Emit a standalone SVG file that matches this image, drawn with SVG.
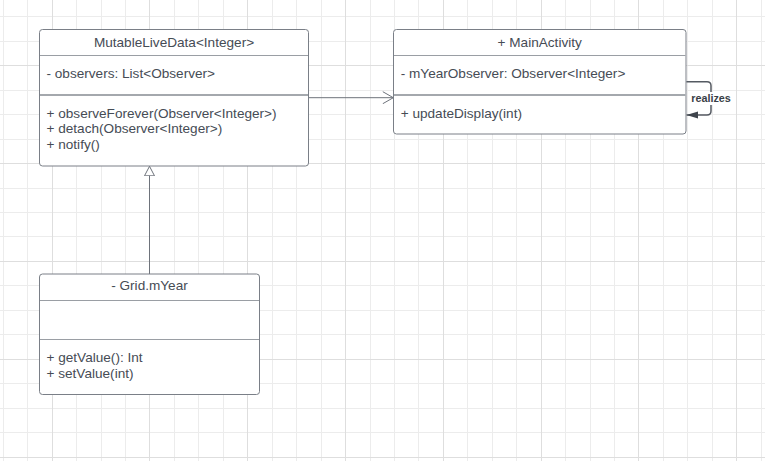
<svg xmlns="http://www.w3.org/2000/svg" width="765" height="461" viewBox="0 0 765 461">
<style>
.gmin{stroke:#ececec;stroke-width:1;fill:none}
.gmaj{stroke:#dedede;stroke-width:1;fill:none}
.box{fill:#ffffff;stroke:#7a7f87;stroke-width:1}
.dv1{stroke:#9a9ea4;stroke-width:1}
.dv2{stroke:#a4a8ad;stroke-width:2}
.t{font-family:"Liberation Sans",Arial,sans-serif;font-size:13.6px;fill:#464c55}
.c{text-anchor:middle}
.conn{fill:none;stroke:#6e737b;stroke-width:1}
.loop{fill:none;stroke:#555a62;stroke-width:1.5}
.lbl{font-family:"Liberation Sans",Arial,sans-serif;font-size:10.8px;font-weight:bold;fill:#3a3f47;text-anchor:middle}
</style>
<defs>
<marker id="open" markerUnits="userSpaceOnUse" viewBox="0 0 12 13" markerWidth="12" markerHeight="13" refX="11" refY="6.5" orient="auto">
<path d="M0.5,0.5 L11,6.5 L0.5,12.5" fill="none" stroke="#6e737b" stroke-width="1"/>
</marker>
<marker id="hollow" markerUnits="userSpaceOnUse" viewBox="0 0 11 12" markerWidth="11" markerHeight="12" refX="10" refY="6" orient="auto">
<path d="M0.5,1 L10,6 L0.5,11 Z" fill="#ffffff" stroke="#6e737b" stroke-width="1"/>
</marker>
<marker id="filled" markerUnits="userSpaceOnUse" viewBox="0 0 12 8" markerWidth="12" markerHeight="8" refX="11.5" refY="4" orient="auto">
<path d="M0,0.5 L11.5,4 L0,7.5 Z" fill="#3f444c"/>
</marker>
</defs>
<rect x="0" y="0" width="765" height="461" fill="#ffffff"/>
<g id="grid">
<path class="gmin" d="M3.5,0V461M27.5,0V461M76.5,0V461M101.5,0V461M125.5,0V461M174.5,0V461M198.5,0V461M223.5,0V461M272.5,0V461M296.5,0V461M321.5,0V461M370.5,0V461M394.5,0V461M418.5,0V461M467.5,0V461M492.5,0V461M516.5,0V461M565.5,0V461M590.5,0V461M614.5,0V461M663.5,0V461M687.5,0V461M712.5,0V461M761.5,0V461"/>
<path class="gmin" d="M0,16.5H765M0,41.5H765M0,90.5H765M0,114.5H765M0,139.5H765M0,188.5H765M0,212.5H765M0,236.5H765M0,285.5H765M0,310.5H765M0,334.5H765M0,383.5H765M0,408.5H765M0,432.5H765"/>
<path class="gmaj" d="M52.5,0V461M149.5,0V461M247.5,0V461M345.5,0V461M443.5,0V461M541.5,0V461M638.5,0V461M736.5,0V461M0,65.5H765M0,163.5H765M0,261.5H765M0,359.5H765M0,457.5H765"/>
</g>
<g id="connectors">
<path class="conn" d="M308.5,97.7 H393.3" marker-end="url(#open)"/>
<path class="conn" d="M149.5,274 V166.3" marker-end="url(#hollow)"/>
<path class="loop" d="M686.3,81.7 H707 Q711,81.7 711,85.7 V111 Q711,115 707,115 H686.5" marker-end="url(#filled)"/>
<rect x="691" y="92" width="41" height="13" fill="#ffffff"/>
<text class="lbl" x="711" y="101.5">realizes</text>
</g>
<g id="node-mutablelivedata">
<rect class="box" x="39.5" y="29.5" width="269" height="136.5" rx="3"/>
<line class="dv1" x1="40" y1="55.5" x2="308" y2="55.5"/>
<line class="dv2" x1="40" y1="95" x2="308" y2="95"/>
<text class="t c" x="174" y="46.5">MutableLiveData&lt;Integer&gt;</text>
<text class="t" x="46.5" y="78.3">- observers: List&lt;Observer&gt;</text>
<text class="t" x="46.5" y="117.5">+ observeForever(Observer&lt;Integer&gt;)</text>
<text class="t" x="46.5" y="133.3">+ detach(Observer&lt;Integer&gt;)</text>
<text class="t" x="46.5" y="149.2">+ notify()</text>
</g>
<g id="node-mainactivity">
<rect class="box" x="393.5" y="29.5" width="292.5" height="104.5" rx="3"/>
<line class="dv1" x1="394" y1="55.5" x2="685.5" y2="55.5"/>
<line class="dv2" x1="394" y1="95" x2="685.5" y2="95"/>
<text class="t c" x="539.7" y="46.5">+ MainActivity</text>
<text class="t" x="400.7" y="78.3">- mYearObserver: Observer&lt;Integer&gt;</text>
<text class="t" x="400.7" y="117.5">+ updateDisplay(int)</text>
</g>
<g id="node-gridmyear">
<rect class="box" x="39.5" y="274" width="220" height="120.5" rx="3"/>
<line class="dv1" x1="40" y1="300.5" x2="259" y2="300.5"/>
<line class="dv1" x1="40" y1="339.5" x2="259" y2="339.5"/>
<text class="t c" x="149.5" y="290">- Grid.mYear</text>
<text class="t" x="46.5" y="361.7">+ getValue(): Int</text>
<text class="t" x="46.5" y="377.5">+ setValue(int)</text>
</g>
</svg>
